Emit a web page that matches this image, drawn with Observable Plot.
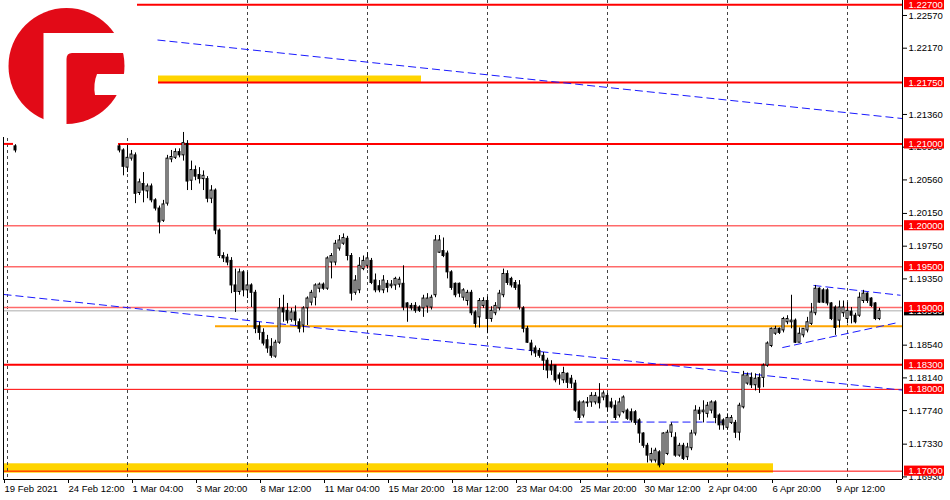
<!DOCTYPE html>
<html><head><meta charset="utf-8">
<script src="https://cdn.jsdelivr.net/npm/d3@7"></script>
<script src="https://cdn.jsdelivr.net/npm/@observablehq/plot@0.6"></script>
<style>
html,body{margin:0;padding:0;background:#fff;}
#wrap{position:relative;width:950px;height:500px;overflow:hidden;}
#logo{position:absolute;left:0;top:0;}
</style></head><body>
<div id="wrap"></div>
<script>
// ---- time axis (H4 bars) ----
const xLabels = ["19 Feb 2021","24 Feb 12:00","1 Mar 04:00","3 Mar 20:00","8 Mar 12:00","11 Mar 04:00","15 Mar 20:00","18 Mar 12:00","23 Mar 04:00","25 Mar 20:00","30 Mar 12:00","2 Apr 04:00","6 Apr 20:00","9 Apr 12:00"];
const xLabelBars = [0,16,32,48,64,80,96,112,128,144,160,176,192,208];
const weekSeparatorBars = [1,31,61,91,121,151,181,211];
const lastBar = 224.75;
const yTicks = [1.2257,1.2217,1.2136,1.2096,1.2056,1.2015,1.1975,1.1935,1.1854,1.1814,1.1774,1.1733,1.1693];
const priceDomain = [1.16898, 1.22753];

// ---- candles: bar 3, then bars 29..219 ----
const barIndex = [3, ...d3.range(29, 220)];
const open = [
1.2097,1.2097,1.2092,1.2071,1.2082,1.2086,1.2040,1.2051,1.2042,1.2048,
1.2031,1.2021,1.2006,1.2027,1.2081,1.2083,1.2090,1.2086,1.2100,1.2055,
1.2068,1.2062,1.2057,1.2057,1.2033,1.2043,1.1994,1.1963,1.1961,1.1957,
1.1927,1.1919,1.1943,1.1921,1.1927,1.1918,1.1877,1.1869,1.1860,1.1852,
1.1840,1.1857,1.1899,1.1896,1.1885,1.1894,1.1882,1.1878,1.1899,1.1906,
1.1912,1.1923,1.1928,1.1923,1.1955,1.1955,1.1972,1.1978,1.1984,1.1963,
1.1918,1.1921,1.1947,1.1951,1.1957,1.1933,1.1926,1.1921,1.1929,1.1926,
1.1927,1.1928,1.1929,1.1905,1.1902,1.1902,1.1900,1.1899,1.1901,1.1900,
1.1915,1.1967,1.1969,1.1966,1.1943,1.1929,1.1929,1.1912,1.1908,1.1918,
1.1894,1.1888,1.1902,1.1908,1.1886,1.1893,1.1899,1.1915,1.1941,1.1935,
1.1930,1.1927,1.1899,1.1874,1.1856,1.1850,1.1847,1.1841,1.1835,1.1829,
1.1829,1.1817,1.1811,1.1819,1.1813,1.1807,1.1784,1.1768,1.1783,1.1784,
1.1784,1.1790,1.1790,1.1792,1.1784,1.1780,1.1768,1.1772,1.1774,1.1772,
1.1772,1.1762,1.1746,1.1731,1.1713,1.1713,1.1723,1.1709,1.1721,1.1747,
1.1741,1.1719,1.1731,1.1717,1.1728,1.1746,1.1774,1.1772,1.1770,1.1774,
1.1784,1.1768,1.1762,1.1753,1.1759,1.1759,1.1747,1.1778,1.1807,1.1814,
1.1805,1.1814,1.1814,1.1829,1.1853,1.1868,1.1874,1.1872,1.1882,1.1882,
1.1884,1.1857,1.1866,1.1872,1.1880,1.1893,1.1923,1.1921,1.1921,1.1905,
1.1900,1.1884,1.1893,1.1886,1.1895,1.1890,1.1890,1.1908,1.1917,1.1911,
1.1905,1.1886];
const high = [
1.2099,1.2099,1.2094,1.2098,1.2092,1.2089,1.2057,1.2065,1.2051,1.2051,
1.2033,1.2024,1.2031,1.2086,1.2092,1.2094,1.2094,1.2114,1.2104,1.2079,
1.2073,1.2071,1.2067,1.2060,1.2049,1.2045,1.1996,1.1967,1.1965,1.1961,
1.1947,1.1947,1.1945,1.1943,1.1929,1.1921,1.1882,1.1874,1.1866,1.1862,
1.1860,1.1911,1.1915,1.1905,1.1899,1.1902,1.1886,1.1901,1.1913,1.1921,
1.1929,1.1930,1.1930,1.1962,1.1966,1.1982,1.1988,1.1990,1.1987,1.1966,
1.1939,1.1961,1.1963,1.1967,1.1960,1.1941,1.1933,1.1939,1.1933,1.1933,
1.1937,1.1937,1.1951,1.1906,1.1905,1.1906,1.1902,1.1915,1.1917,1.1915,
1.1988,1.1988,1.1985,1.1969,1.1945,1.1930,1.1930,1.1923,1.1921,1.1921,
1.1896,1.1911,1.1912,1.1913,1.1901,1.1906,1.1921,1.1947,1.1945,1.1937,
1.1933,1.1933,1.1901,1.1877,1.1860,1.1853,1.1850,1.1845,1.1838,1.1835,
1.1829,1.1820,1.1827,1.1820,1.1817,1.1811,1.1786,1.1786,1.1790,1.1796,
1.1796,1.1807,1.1798,1.1795,1.1789,1.1786,1.1789,1.1792,1.1776,1.1776,
1.1774,1.1764,1.1747,1.1734,1.1728,1.1728,1.1725,1.1747,1.1750,1.1759,
1.1747,1.1734,1.1734,1.1734,1.1750,1.1780,1.1778,1.1786,1.1784,1.1786,
1.1786,1.1770,1.1764,1.1770,1.1768,1.1762,1.1783,1.1822,1.1820,1.1820,
1.1819,1.1819,1.1831,1.1858,1.1875,1.1877,1.1875,1.1888,1.1890,1.1915,
1.1886,1.1875,1.1874,1.1888,1.1905,1.1927,1.1924,1.1923,1.1923,1.1906,
1.1902,1.1908,1.1908,1.1906,1.1900,1.1893,1.1918,1.1921,1.1918,1.1912,
1.1906,1.1899];
const low = [
1.2089,1.2089,1.2061,1.2065,1.2079,1.2027,1.2037,1.2028,1.2033,1.2028,
1.2018,1.1990,1.2004,1.2024,1.2077,1.2081,1.2083,1.2079,1.2043,1.2043,
1.2055,1.2051,1.2043,1.2028,1.2027,1.1989,1.1960,1.1955,1.1951,1.1917,
1.1894,1.1915,1.1913,1.1911,1.1900,1.1868,1.1860,1.1853,1.1844,1.1838,
1.1838,1.1855,1.1882,1.1880,1.1882,1.1878,1.1869,1.1869,1.1878,1.1902,
1.1902,1.1918,1.1921,1.1921,1.1935,1.1951,1.1969,1.1976,1.1957,1.1908,
1.1915,1.1917,1.1945,1.1947,1.1928,1.1918,1.1918,1.1917,1.1918,1.1923,
1.1921,1.1924,1.1896,1.1882,1.1896,1.1893,1.1894,1.1888,1.1893,1.1897,
1.1912,1.1966,1.1961,1.1935,1.1921,1.1912,1.1912,1.1908,1.1902,1.1890,
1.1875,1.1875,1.1899,1.1868,1.1882,1.1890,1.1896,1.1912,1.1927,1.1924,
1.1921,1.1897,1.1869,1.1856,1.1841,1.1839,1.1838,1.1823,1.1813,1.1817,
1.1808,1.1805,1.1807,1.1801,1.1801,1.1772,1.1762,1.1765,1.1778,1.1778,
1.1781,1.1776,1.1786,1.1772,1.1776,1.1762,1.1765,1.1770,1.1762,1.1759,
1.1756,1.1734,1.1728,1.1710,1.1710,1.1710,1.1704,1.1707,1.1719,1.1741,
1.1717,1.1717,1.1713,1.1713,1.1725,1.1743,1.1762,1.1759,1.1765,1.1770,
1.1758,1.1750,1.1750,1.1750,1.1757,1.1740,1.1737,1.1776,1.1805,1.1801,
1.1798,1.1795,1.1802,1.1827,1.1851,1.1866,1.1867,1.1869,1.1879,1.1874,
1.1856,1.1857,1.1863,1.1869,1.1878,1.1890,1.1905,1.1905,1.1902,1.1884,
1.1866,1.1875,1.1888,1.1880,1.1880,1.1880,1.1888,1.1905,1.1905,1.1900,
1.1884,1.1884];
const close = [
1.2092,1.2092,1.2072,1.2083,1.2087,1.2039,1.2053,1.2043,1.2048,1.2031,
1.2021,1.2004,1.2026,1.2082,1.2084,1.2090,1.2086,1.2101,1.2054,1.2068,
1.2060,1.2057,1.2061,1.2033,1.2043,1.1994,1.1963,1.1960,1.1955,1.1927,
1.1919,1.1943,1.1921,1.1927,1.1918,1.1874,1.1869,1.1856,1.1850,1.1841,
1.1857,1.1899,1.1894,1.1884,1.1894,1.1884,1.1874,1.1899,1.1911,1.1918,
1.1927,1.1928,1.1923,1.1960,1.1963,1.1978,1.1982,1.1985,1.1963,1.1917,
1.1933,1.1951,1.1957,1.1960,1.1930,1.1921,1.1921,1.1933,1.1924,1.1928,
1.1935,1.1934,1.1900,1.1900,1.1899,1.1896,1.1896,1.1911,1.1911,1.1912,
1.1982,1.1982,1.1963,1.1943,1.1924,1.1915,1.1917,1.1921,1.1918,1.1893,
1.1880,1.1908,1.1908,1.1886,1.1896,1.1902,1.1917,1.1941,1.1930,1.1927,
1.1924,1.1900,1.1874,1.1857,1.1847,1.1844,1.1841,1.1835,1.1823,1.1823,
1.1811,1.1813,1.1820,1.1808,1.1807,1.1774,1.1765,1.1784,1.1784,1.1792,
1.1792,1.1783,1.1795,1.1778,1.1778,1.1765,1.1784,1.1790,1.1764,1.1762,
1.1759,1.1746,1.1731,1.1719,1.1721,1.1725,1.1707,1.1746,1.1747,1.1756,
1.1719,1.1731,1.1715,1.1729,1.1746,1.1774,1.1770,1.1774,1.1780,1.1784,
1.1765,1.1756,1.1756,1.1765,1.1765,1.1747,1.1780,1.1817,1.1817,1.1805,
1.1813,1.1802,1.1829,1.1856,1.1874,1.1874,1.1869,1.1886,1.1886,1.1884,
1.1857,1.1868,1.1874,1.1882,1.1894,1.1923,1.1906,1.1906,1.1905,1.1886,
1.1875,1.1900,1.1900,1.1896,1.1890,1.1882,1.1912,1.1917,1.1908,1.1902,
1.1886,1.1896];

// ---- horizontal levels (price, start bar, end bar) ----
const levelPrice = [1.2270, 1.2175, 1.2100, 1.2100, 1.2000, 1.1950, 1.1900, 1.1830, 1.1800, 1.1700];
const levelStart = [33.5, 38.75, 28.75, 0, 0, 0, 0, 0, 0, 0];
const levelEnd   = [224.75, 224.75, 224.75, 2.5, 224.75, 224.75, 224.75, 224.75, 224.75, 224.75];
const heavyLevels = [1.2270, 1.2175, 1.2100, 1.1830];
const faintLevels = [1.2000, 1.1950, 1.1900];
const labelLevels = [1.2270, 1.2175, 1.2100, 1.2000, 1.1950, 1.1900, 1.1830, 1.1800, 1.1700];
const supportPrice = [1.1877];
const supportStart = [53];

// ---- zones ----
const zoneStart = [38.75, 0];
const zoneEnd = [104.5, 192.5];
const zoneLow = [1.2175, 1.16975];
const zoneHigh = [1.2183, 1.1709];

// ---- trend lines ----
const trendStartBar = [38.5, 0, 142.75, 202.5, 194.7];
const trendStartPrice = [1.2227, 1.1916, 1.1760, 1.1927, 1.1851];
const trendEndBar = [224.75, 224.75, 179.75, 224.25, 223];
const trendEndPrice = [1.2131, 1.1799, 1.1760, 1.1915, 1.1881];

// ---- derived ----
const idx = d3.range(barIndex.length);
const bull = idx.filter(i => close[i] >= open[i]);
const bear = idx.filter(i => close[i] < open[i]);
const lvl = d3.range(levelPrice.length);
const lastClose = close[close.length - 1];
const boxHalf = 0.00062;
const fmt = d => d.toFixed(5);

const chart = Plot.plot({
  width: 950, height: 500,
  marginLeft: 3, marginRight: 48, marginTop: 0, marginBottom: 21,
  x: {domain: [0, lastBar], axis: null},
  y: {domain: priceDomain, axis: null},
  style: {fontFamily: "'Liberation Sans', Arial, sans-serif", fontSize: "9.5px", color: "black", background: "white"},
  marks: [
    Plot.rect(d3.range(zoneLow.length), {x1: i => zoneStart[i], x2: i => zoneEnd[i], y1: i => zoneLow[i], y2: i => zoneHigh[i], fill: "#ffd400"}),
    Plot.ruleX(weekSeparatorBars, {stroke: "#444", strokeDasharray: "3,3"}),
    Plot.ruleY(lvl.filter(i => faintLevels.includes(levelPrice[i])), {y: i => levelPrice[i], x1: i => levelStart[i], x2: i => levelEnd[i], stroke: "#ff6a6a", strokeWidth: 1.5}),
    Plot.ruleY(lvl.filter(i => !faintLevels.includes(levelPrice[i]) && !heavyLevels.includes(levelPrice[i])), {y: i => levelPrice[i], x1: i => levelStart[i], x2: i => levelEnd[i], stroke: "#ff0000", strokeWidth: 1}),
    Plot.ruleY(lvl.filter(i => heavyLevels.includes(levelPrice[i])), {y: i => levelPrice[i], x1: i => levelStart[i], x2: i => levelEnd[i], stroke: "#ff0000", strokeWidth: 2}),
    Plot.ruleY(supportPrice, {y: d => d, x1: (d, i) => supportStart[i], x2: lastBar, stroke: "#ffa500", strokeWidth: 2}),
    Plot.ruleY([lastClose], {x1: 0, x2: lastBar, stroke: "#c8c8c8", strokeWidth: 1.5}),
    Plot.link(d3.range(trendStartBar.length), {x1: i => trendStartBar[i], y1: i => trendStartPrice[i], x2: i => trendEndBar[i], y2: i => trendEndPrice[i], stroke: "#1a1aff", strokeWidth: 1, strokeDasharray: "8,4"}),
    Plot.ruleX(idx, {x: i => barIndex[i], y1: i => low[i], y2: i => high[i], stroke: "black", strokeWidth: 1}),
    Plot.rect(bull, {x1: i => barIndex[i] - 0.25, x2: i => barIndex[i] + 0.25, y1: i => open[i], y2: i => close[i], fill: "white", stroke: "black", strokeWidth: 1}),
    Plot.rect(bear, {x1: i => barIndex[i] - 0.25, x2: i => barIndex[i] + 0.25, y1: i => open[i], y2: i => close[i], fill: "black", stroke: "black", strokeWidth: 1}),
    Plot.ruleX([0, lastBar], {stroke: "black"}),
    Plot.ruleY([priceDomain[0]], {stroke: "black"}),
    Plot.axisX(xLabelBars, {tickFormat: d => xLabels[xLabelBars.indexOf(d)], textAnchor: "start", tickSize: 4, tickPadding: 2, dx: 1, label: null}),
    Plot.axisY(yTicks, {anchor: "right", tickFormat: fmt, tickSize: 4, tickPadding: 2, label: null}),
    Plot.rect([lastClose], {x1: () => lastBar + 0.5, x2: () => lastBar + 10.5, y1: d => d - boxHalf, y2: d => d + boxHalf, fill: "black"}),
    Plot.text([lastClose], {x: () => lastBar, y: d => d, text: fmt, dx: 6, textAnchor: "start", fill: "white"}),
    Plot.rect(labelLevels, {x1: () => lastBar + 0.5, x2: () => lastBar + 10.5, y1: d => d - boxHalf, y2: d => d + boxHalf, fill: "#ff0000"}),
    Plot.text(labelLevels, {x: () => lastBar, y: d => d, text: fmt, dx: 6, textAnchor: "start", fill: "white"})
  ]
});
const wrap = document.getElementById("wrap");
wrap.appendChild(chart);
wrap.insertAdjacentHTML("beforeend", `<svg id="logo" width="137" height="137" xmlns="http://www.w3.org/2000/svg">
<rect x="0" y="0" width="137" height="137" fill="white"/>
<circle cx="66.5" cy="66" r="58" fill="#e20a17"/>
<path d="M43.5 33 H130 V53 H72 Q66.5 53 66.5 59 V130 H43.5 Z" fill="white"/>
<path d="M97 74 H130 V95 H95 Q93 84 97 74 Z" fill="white"/>
</svg>`);
</script>
</body></html>
